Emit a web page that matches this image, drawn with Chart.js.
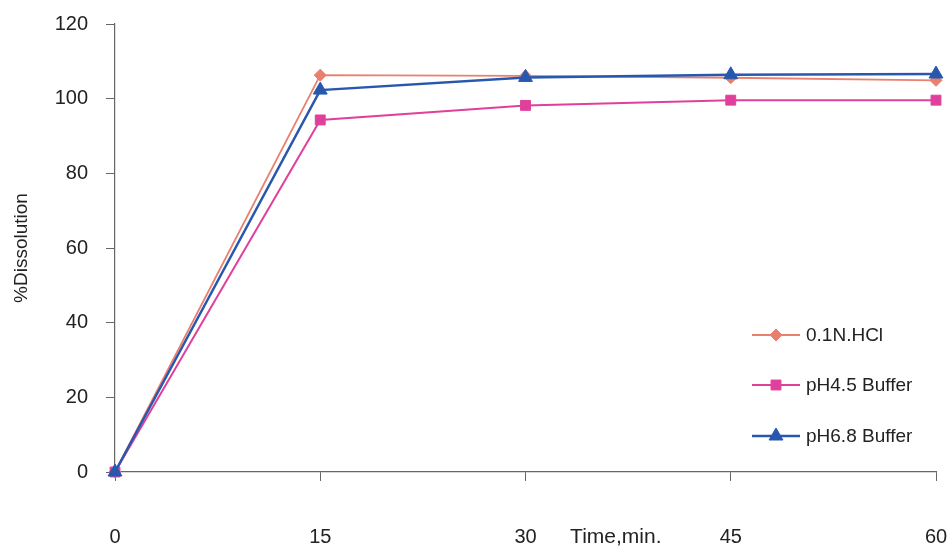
<!DOCTYPE html>
<html>
<head>
<meta charset="utf-8">
<script src="https://cdn.jsdelivr.net/npm/chart.js@4.4.1/dist/chart.umd.min.js"></script>
<style>
  html, body { margin: 0; padding: 0; background: #ffffff; }
  #wrap { width: 950px; height: 550px; }
</style>
</head>
<body>
<div id="wrap"><canvas id="c" width="950" height="550"></canvas></div>
<script>
// Sampling times (minutes)
const times = [0, 15, 30, 45, 60];

// % dissolved per medium
const hclValues   = [0, 106.3, 106.1, 105.6, 104.9];
const ph45Values  = [0, 94.3, 98.2, 99.6, 99.6];
const ph68Values  = [0, 102.3, 105.7, 106.4, 106.6];

const seriesNames = ['0.1N.HCl', 'pH4.5 Buffer', 'pH6.8 Buffer'];
const yTicks = [0, 20, 40, 60, 80, 100, 120];

const FONT = "'Liberation Sans', Arial, Helvetica, sans-serif";
const TEXT = '#222222';
const AXIS = '#666666';

const toPoints = vals => vals.map((v, i) => ({ x: times[i], y: v }));

// Legend drawn inside the plot area: short line with the marker in its middle
const innerLegend = {
  id: 'innerLegend',
  afterDatasetsDraw(chart) {
    const ctx = chart.ctx;
    const rowsY = [335, 385, 436];
    const x0 = 752, x1 = 800;
    chart.data.datasets.forEach((ds, i) => {
      const y = rowsY[i];
      ctx.save();
      ctx.strokeStyle = ds.borderColor;
      ctx.lineWidth = ds.borderWidth;
      ctx.beginPath();
      ctx.moveTo(x0, y);
      ctx.lineTo(x1, y);
      ctx.stroke();
      ctx.fillStyle = ds.backgroundColor;
      ctx.strokeStyle = ds.borderColor;
      ctx.lineWidth = 1;
      Chart.helpers.drawPoint(ctx, {
        pointStyle: ds.pointStyle,
        radius: ds.pointRadius,
        rotation: 0,
        borderWidth: 1
      }, (x0 + x1) / 2, y);
      ctx.restore();
      ctx.save();
      ctx.fillStyle = TEXT;
      ctx.font = '19px ' + FONT;
      ctx.textBaseline = 'middle';
      ctx.textAlign = 'left';
      ctx.fillText(ds.label, x1 + 6, y + 1);
      ctx.restore();
    });
  }
};

// Axis title set on the same line as the x tick labels, between 30 and 45
const xTitleInline = {
  id: 'xTitleInline',
  afterDraw(chart) {
    const xs = chart.scales.x;
    const ctx = chart.ctx;
    ctx.save();
    ctx.fillStyle = TEXT;
    ctx.font = '21px ' + FONT;
    ctx.textAlign = 'center';
    ctx.textBaseline = 'middle';
    ctx.fillText('Time,min.', xs.getPixelForValue(36.6), 537);
    ctx.restore();
  }
};

const ctx = document.getElementById('c').getContext('2d');
new Chart(ctx, {
  type: 'line',
  data: {
    datasets: [
      {
        label: seriesNames[0],
        data: toPoints(hclValues),
        borderColor: '#e9806f',
        backgroundColor: '#e9806f',
        borderWidth: 1.8,
        pointStyle: 'rectRot',
        pointRadius: 6,
        pointBorderWidth: 1,
        tension: 0,
        clip: false,
        order: 2
      },
      {
        label: seriesNames[1],
        data: toPoints(ph45Values),
        borderColor: '#e0409c',
        backgroundColor: '#e0409c',
        borderWidth: 2,
        pointStyle: 'rect',
        pointRadius: 7,
        pointBorderWidth: 1,
        tension: 0,
        clip: false,
        order: 1
      },
      {
        label: seriesNames[2],
        data: toPoints(ph68Values),
        borderColor: '#2858ad',
        backgroundColor: '#2858ad',
        borderWidth: 2.5,
        pointStyle: 'triangle',
        pointRadius: 8,
        pointBorderWidth: 1,
        tension: 0,
        clip: false,
        order: 0
      }
    ]
  },
  options: {
    responsive: false,
    animation: false,
    layout: { padding: { top: 24, right: 0, left: 0, bottom: 0 } },
    plugins: {
      legend: { display: false },
      tooltip: { enabled: false }
    },
    scales: {
      x: {
        type: 'linear',
        min: 0,
        max: 60,
        afterBuildTicks(scale) {
          scale.ticks = times.map(v => ({ value: v }));
        },
        ticks: {
          color: TEXT,
          font: { family: FONT, size: 20 },
          padding: 44,
          maxRotation: 0,
          autoSkip: false
        },
        grid: {
          drawOnChartArea: false,
          drawTicks: true,
          tickLength: 9,
          color: AXIS,
          lineWidth: 1
        },
        border: { color: AXIS, width: 1.2 },
        afterFit(scale) {
          scale.height = 78;
          scale.paddingRight = 14;
          scale.paddingLeft = 0;
        }
      },
      y: {
        type: 'linear',
        min: 0,
        max: 120,
        afterBuildTicks(scale) {
          scale.ticks = yTicks.map(v => ({ value: v }));
        },
        ticks: {
          color: TEXT,
          font: { family: FONT, size: 20 },
          padding: 18
        },
        grid: {
          drawOnChartArea: false,
          drawTicks: true,
          tickLength: 9,
          color: AXIS,
          lineWidth: 1
        },
        border: { color: AXIS, width: 1.2 },
        title: {
          display: true,
          text: '%Dissolution',
          color: TEXT,
          font: { family: FONT, size: 19 },
          padding: { top: 10, bottom: 0 }
        },
        afterFit(scale) {
          scale.width = 115;
          scale.paddingTop = 0;
          scale.paddingBottom = 0;
        }
      }
    }
  },
  plugins: [innerLegend, xTitleInline]
});
</script>
</body>
</html>
